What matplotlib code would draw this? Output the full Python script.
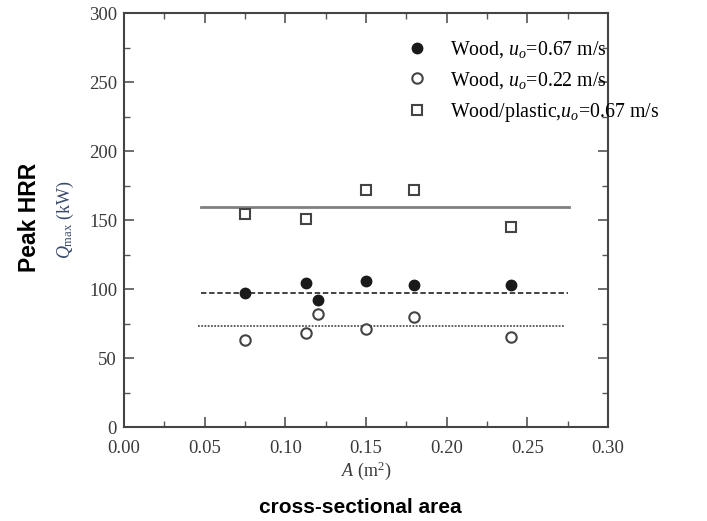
import numpy as np
import matplotlib.pyplot as plt
from matplotlib.ticker import MultipleLocator, FormatStrFormatter

# peak HRR vs cross-sectional area
area_wood = [0.075, 0.1125, 0.12, 0.15, 0.18, 0.24]
q_wood_067 = [97, 104, 92, 106, 103, 103]
q_wood_022 = [63, 68, 82, 71, 80, 65]
area_wp = [0.075, 0.1125, 0.15, 0.18, 0.24]
q_wp_067 = [154, 151, 172, 172, 145]

# mean lines
mean_wp = 159.2
mean_067 = 97.3
mean_022 = 73.2

serif = 'Liberation Serif'
tick_col = '#3a3a3a'

plt.rcParams['mathtext.fontset'] = 'custom'
plt.rcParams['mathtext.rm'] = serif
plt.rcParams['mathtext.it'] = serif + ':italic'

fig = plt.figure(figsize=(7.07, 5.21), dpi=100)
ax = fig.add_axes([0.1754, 0.1804, 0.6846, 0.7946])

ax.plot([0.048, 0.276], [mean_wp, mean_wp], color='#808080', lw=2.0)
ax.plot([0.048, 0.275], [mean_067, mean_067], color='#333333', lw=1.3, ls=(0, (3, 1.5)))
ax.plot([0.046, 0.273], [mean_022, mean_022], color='#555555', lw=1.3, ls=(0, (1, 0.8)))

ax.plot(area_wood, q_wood_067, 'o', color='#1a1a1a', ms=7.5, ls='none',
        label=r'Wood, $u_o$=0.67 m/s')
ax.plot(area_wood, q_wood_022, 'o', mfc='white', mec='#444444', mew=1.5, ms=7.5,
        ls='none', label=r'Wood, $u_o$=0.22 m/s')
ax.plot(area_wp, q_wp_067, 's', mfc='white', mec='#444444', mew=1.5, ms=6.5,
        ls='none', label=r'Wood/plastic,$u_o$=0.67 m/s')

ax.set_xlim(0, 0.30)
ax.set_ylim(0, 300)
ax.xaxis.set_major_locator(MultipleLocator(0.05))
ax.xaxis.set_minor_locator(MultipleLocator(0.025))
ax.xaxis.set_major_formatter(FormatStrFormatter('%.2f'))
ax.yaxis.set_major_locator(MultipleLocator(50))
ax.yaxis.set_minor_locator(MultipleLocator(25))
ax.tick_params(which='both', direction='in', top=True, right=True,
               labelsize=13.5, labelcolor=tick_col, color='#555555')
ax.tick_params(which='major', length=7, width=1.2)
ax.tick_params(which='minor', length=4, width=1)
ax.tick_params(axis='x', pad=9)
ax.tick_params(axis='y', pad=5)
for lab in ax.get_xticklabels() + ax.get_yticklabels():
    lab.set_family(serif)
for s in ax.spines.values():
    s.set_linewidth(1.5)
    s.set_color('#444444')

leg = ax.legend(loc='upper left', bbox_to_anchor=(0.565, 0.961), frameon=False,
                prop={'family': serif, 'size': 14.3}, borderpad=0,
                handletextpad=1.15, labelspacing=0.5, handlelength=1.0)

ax.set_xlabel(r'$A$ (m$^2$)', fontsize=13, family=serif, color=tick_col, labelpad=2)
ax.set_ylabel(r'$Q_{\rm max}$ (kW)', fontsize=13, family=serif, color='#3a4a6a', labelpad=9)
fig.text(0.51, 0.015, 'cross-sectional area', ha='center', fontsize=15,
         fontweight='bold', family='Liberation Sans')
fig.text(0.042, 0.583, 'Peak HRR', va='center', ha='center', rotation=90, fontsize=16.5,
         fontweight='bold', family='Liberation Sans')

fig.savefig('out.png', dpi=100)
